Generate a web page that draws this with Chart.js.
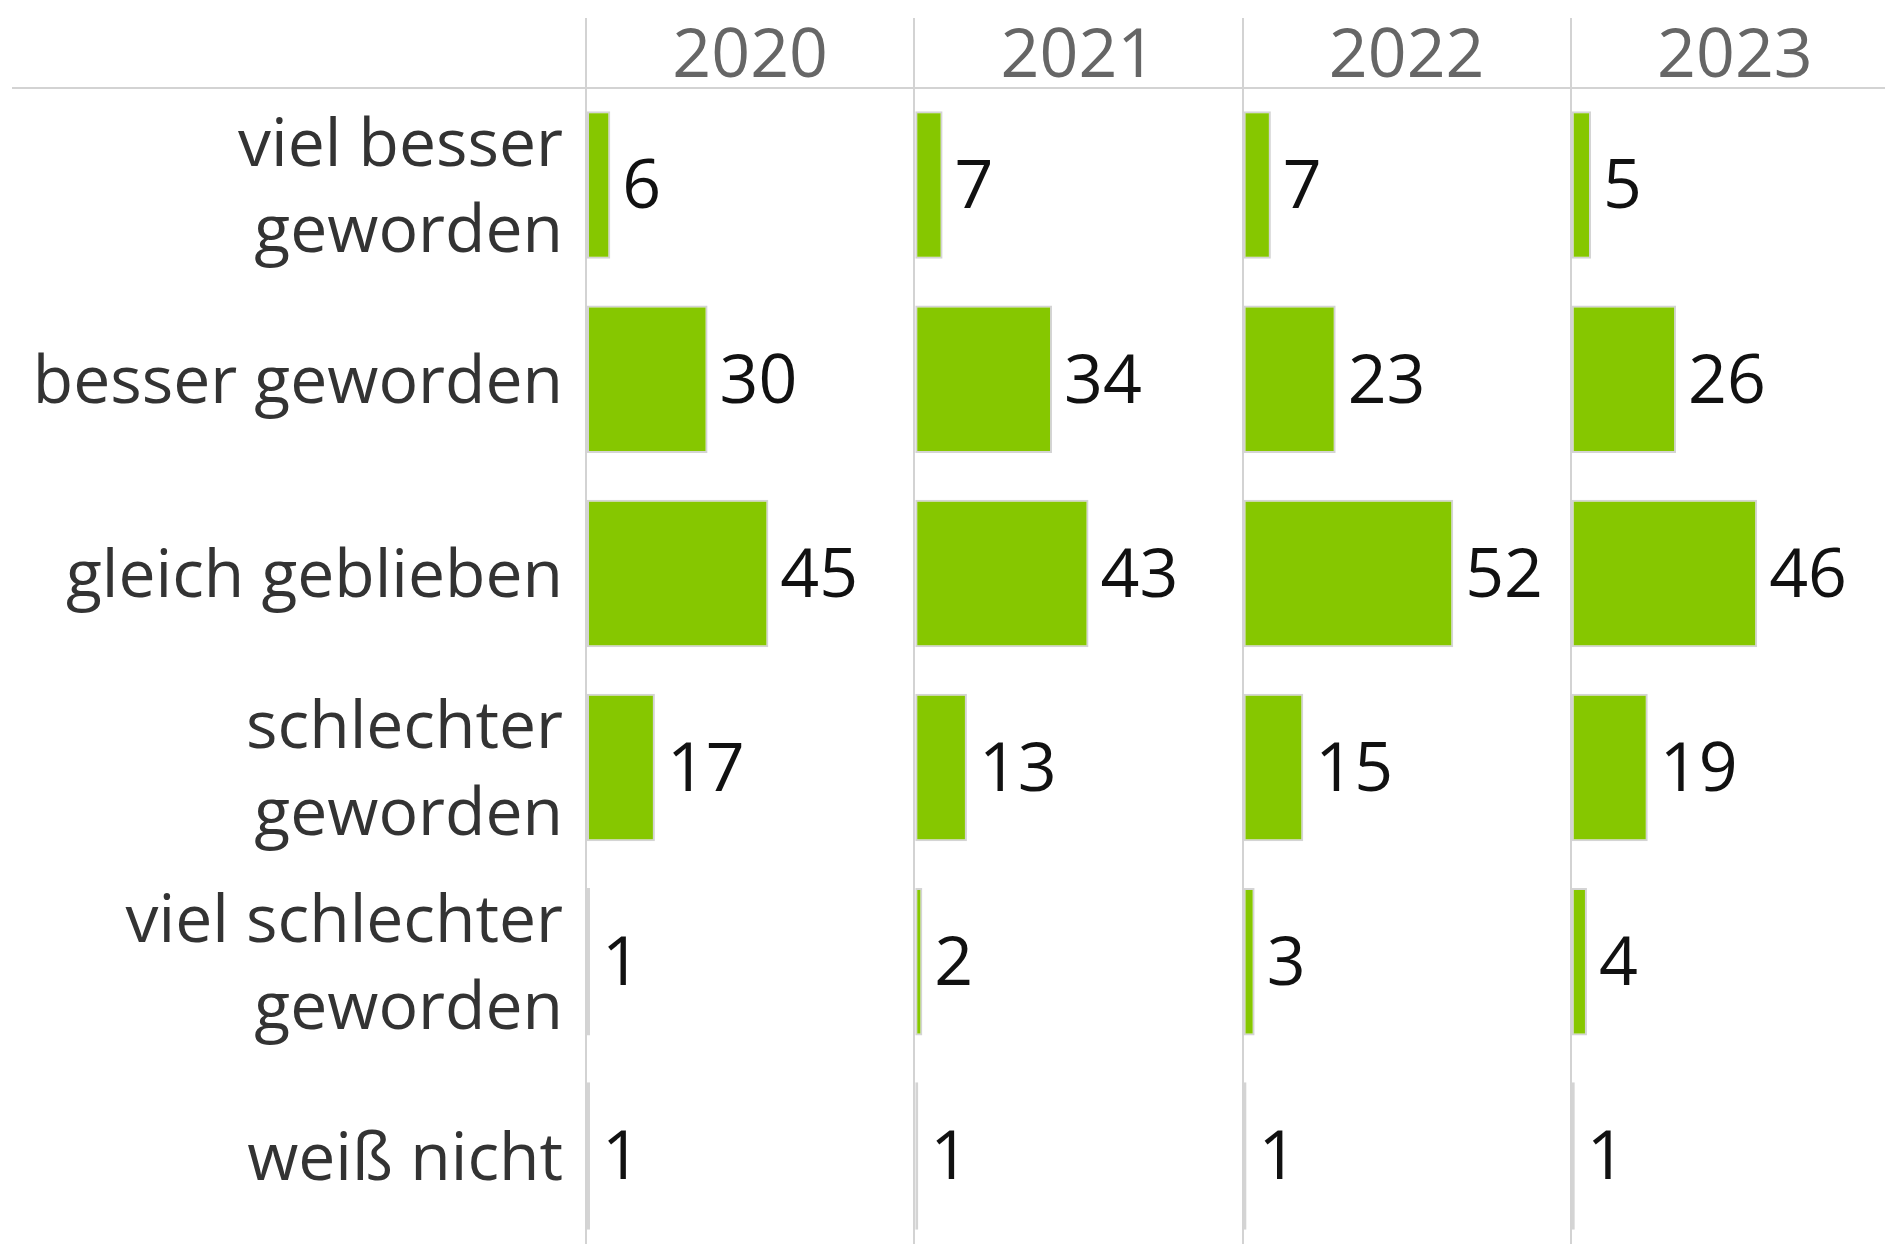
<!DOCTYPE html>
<html>
<head>
<meta charset="utf-8">
<script src="https://cdn.jsdelivr.net/npm/chart.js@4/dist/chart.umd.min.js"></script>
<style>
  html, body { margin: 0; padding: 0; background: #fff; overflow: hidden; }
  #wrap { position: absolute; left: 0; top: 0; }
</style>
</head>
<body>
<div id="wrap"><canvas id="chart" width="1899" height="1253"></canvas></div>
<script>
// Answer categories (multi-line where the chart wraps them)
const categories = [
    ['viel besser', 'geworden'],
    'besser geworden',
    'gleich geblieben',
    ['schlechter', 'geworden'],
    ['viel schlechter', 'geworden'],
    'weiß nicht'
];

// One panel per survey year
const years = ['2020', '2021', '2022', '2023'];

const values2020 = [6, 30, 45, 17, 1, 1];
const values2021 = [7, 34, 43, 13, 2, 1];
const values2022 = [7, 23, 52, 15, 3, 1];
const values2023 = [5, 26, 46, 19, 4, 1];

const seriesValues = [values2020, values2021, values2022, values2023];

const FONT = "'Open Sans', 'Noto Sans', sans-serif";
const barColor = '#86c700';
const lineColor = '#d3d3d3';

// value labels to the right of each bar
const valueLabels = {
    id: 'valueLabels',
    afterDatasetsDraw(chart) {
        const ctx = chart.ctx;
        ctx.save();
        ctx.font = '68px ' + FONT;
        ctx.fillStyle = '#111';
        ctx.textAlign = 'left';
        ctx.textBaseline = 'middle';
        chart.data.datasets.forEach((ds, i) => {
            const meta = chart.getDatasetMeta(i);
            meta.data.forEach((bar, j) => {
                ctx.fillText(String(ds.data[j]), bar.x + 12, bar.y + 4);
            });
        });
        ctx.restore();
    }
};

// header separator line below the year titles
const headerLine = {
    id: 'headerLine',
    afterDraw(chart) {
        const ctx = chart.ctx;
        const y = chart.chartArea.top;
        ctx.save();
        ctx.strokeStyle = lineColor;
        ctx.lineWidth = 2;
        ctx.beginPath();
        ctx.moveTo(12, y);
        ctx.lineTo(chart.width, y);
        ctx.stroke();
        ctx.restore();
    }
};

const scales = {
    y: {
        type: 'category',
        position: 'left',
        grid: { display: false, drawTicks: false },
        border: { display: false },
        ticks: {
            color: '#333',
            padding: 23,
            labelOffset: 5,
            font: { family: FONT, size: 66, lineHeight: 1.31 }
        },
        afterFit(scale) {
            scale.width = 586;
            // no extra room for the wrapped labels at the ends
            scale.paddingTop = 0;
            scale.paddingBottom = 0;
        }
    }
};

// top axes are laid out last-first, so add them in reverse
years.slice().reverse().forEach(year => {
    scales['x' + year] = {
        type: 'linear',
        position: 'top',
        stack: 'years',
        stackWeight: 1,
        min: 0,
        max: 81,
        afterBuildTicks(axis) { axis.ticks = [{ value: 0 }]; },
        grid: {
            color: lineColor,
            lineWidth: 2,
            drawTicks: true,
            tickLength: 70
        },
        border: { display: false },
        ticks: { display: false },
        title: {
            display: true,
            text: year,
            color: '#666',
            font: { family: FONT, size: 68, lineHeight: 0 },
            padding: { top: 40, bottom: -40 }
        }
    };
});

const datasets = years.map((year, i) => ({
    label: year,
    data: seriesValues[i],
    xAxisID: 'x' + year,
    yAxisID: 'y',
    backgroundColor: barColor,
    borderColor: '#d4d4d4',
    borderWidth: 2,
    borderSkipped: false,
    grouped: false,
    categoryPercentage: 1,
    barPercentage: 0.76
}));

new Chart(document.getElementById('chart'), {
    type: 'bar',
    data: { labels: categories, datasets: datasets },
    options: {
        indexAxis: 'y',
        responsive: false,
        animation: false,
        layout: { padding: { top: 18, left: 0, right: 0, bottom: 0 } },
        plugins: {
            legend: { display: false },
            tooltip: { enabled: false }
        },
        scales: scales
    },
    plugins: [valueLabels, headerLine]
});
</script>
</body>
</html>
